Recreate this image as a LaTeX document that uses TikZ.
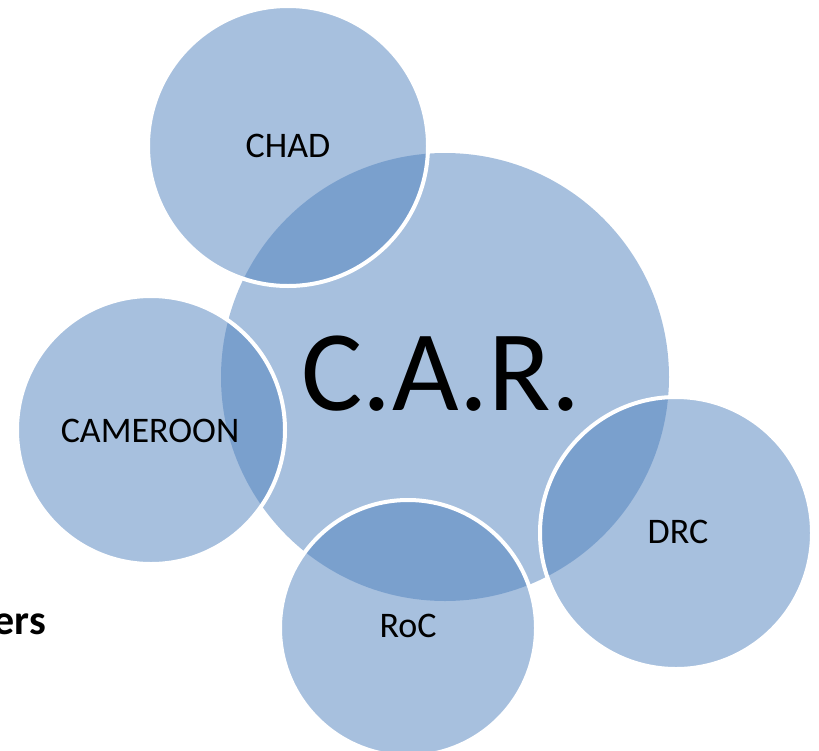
\documentclass[tikz,border=0pt]{standalone}
\usepackage{fontspec}
\setmainfont{Carlito}
\definecolor{circblue}{HTML}{4F81BD}
\begin{document}
\begin{tikzpicture}[x=1pt,y=-1pt,
  bigcirc/.style={fill=circblue,fill opacity=0.5,draw=none},
  satcirc/.style={fill=circblue,fill opacity=0.5,draw=white,draw opacity=1,line width=4pt},
  smalllabel/.style={anchor=base,inner sep=0pt,font=\fontsize{36}{40}\selectfont,text=black},
  biglabel/.style={anchor=base,inner sep=0pt,font=\fontsize{115}{130}\selectfont,text=black},
  sidelabel/.style={anchor=base east,inner sep=0pt,font=\bfseries\fontsize{42}{48}\selectfont,text=black}]
\useasboundingbox (0,0) rectangle (819,750);
% circles
\fill[bigcirc] (445,377) circle[radius=224];
\draw[satcirc] (288,146) circle[radius=140];
\draw[satcirc] (151,430) circle[radius=134];
\draw[satcirc] (408,628) circle[radius=128];
\draw[satcirc] (676,533) circle[radius=136];
% labels
\node[biglabel] (car) at (441,410) {C.A.R.};
\node[smalllabel] (chad) at (288,157) {CHAD};
\node[smalllabel] (cam) at (150,442) {CAMEROON};
\node[smalllabel] (drc) at (678,543) {DRC};
\node[smalllabel] (roc) at (408,637) {RoC};
\node[sidelabel] (ers) at (46,634) {ers};
\end{tikzpicture}
\end{document}
